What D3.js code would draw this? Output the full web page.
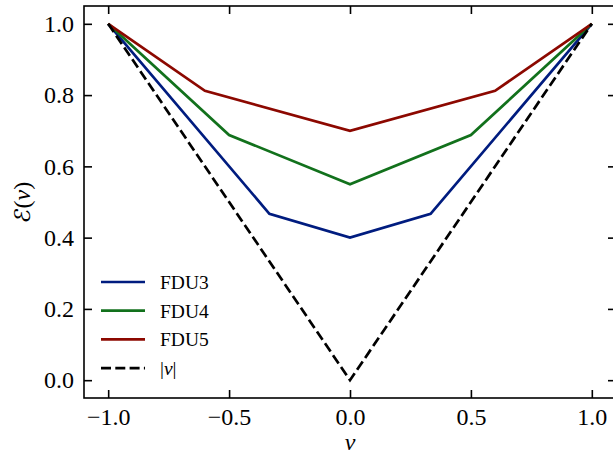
<!DOCTYPE html>
<html>
<head>
<meta charset="utf-8">
<script src="https://cdn.jsdelivr.net/npm/d3@7.9.0/dist/d3.min.js"></script>
<style>
  body { margin: 0; background: #fff; }
  svg text { font-family: "Liberation Serif", serif; fill: #000; }
</style>
</head>
<body>
<svg id="chart" width="613" height="458"></svg>
<script>
// data
const fdu3X = [-1, -1 / 3, 0, 1 / 3, 1];
const fdu3Y = [1, 0.467, 0.4, 0.467, 1];
const fdu4X = [-1, -0.5, 0, 0.5, 1];
const fdu4Y = [1, 0.688, 0.55, 0.688, 1];
const fdu5X = [-1, -0.6, 0, 0.6, 1];
const fdu5Y = [1, 0.812, 0.7, 0.812, 1];
const absX = [-1, 0, 1];
const absY = [1, 0, 1];
const xTicks = [-1, -0.5, 0, 0.5, 1];
const yTicks = [0, 0.2, 0.4, 0.6, 0.8, 1];

const series = [
    { label: 'FDU3', xs: fdu3X, ys: fdu3Y, color: '#001c7f', dash: null },
    { label: 'FDU4', xs: fdu4X, ys: fdu4Y, color: '#12711c', dash: null },
    { label: 'FDU5', xs: fdu5X, ys: fdu5Y, color: '#8c0800', dash: null },
    { label: 'abs', xs: absX, ys: absY, color: '#000', dash: '10,4.3' }
];

const mLeft = 84, mRight = 616, mTop = 6, mBottom = 398;
const svg = d3.select('#chart');

const x = d3.scaleLinear().domain([-1.1, 1.1]).range([mLeft, mRight]);
const y = d3.scaleLinear().domain([-0.05, 1.05]).range([mBottom, mTop]);

const fmt = (d) => d3.format('.1f')(d).replace('-', '\u2212');

// lines
const line = d3.line().x((d) => x(d[0])).y((d) => y(d[1]));
series.forEach((s) => {
    svg.append('path')
        .attr('d', line(s.xs.map((v, i) => [v, s.ys[i]])))
        .attr('fill', 'none')
        .attr('stroke', s.color)
        .attr('stroke-width', 2.7)
        .attr('stroke-dasharray', s.dash)
        .attr('stroke-linejoin', 'miter');
});

// frame
svg.append('rect')
    .attr('x', mLeft).attr('y', mTop)
    .attr('width', mRight - mLeft).attr('height', mBottom - mTop)
    .attr('fill', 'none').attr('stroke', '#000').attr('stroke-width', 1.6);

// axes with inward ticks on every side
const tickLen = 8;
const ax = (g, axis) => {
    g.call(axis);
    g.select('.domain').remove();
    g.selectAll('line').attr('stroke', '#000').attr('stroke-width', 1.6);
    g.selectAll('text').attr('font-size', 24).attr('font-family', '"Liberation Serif", serif').attr('fill', '#000');
};
svg.append('g').attr('transform', `translate(0,${mBottom})`)
    .call((g) => ax(g, d3.axisBottom(x).tickValues(xTicks).tickSize(-tickLen).tickPadding(10).tickFormat(fmt)));
svg.append('g').attr('transform', `translate(0,${mTop})`)
    .call((g) => ax(g, d3.axisTop(x).tickValues(xTicks).tickSize(-tickLen).tickFormat('')));
svg.append('g').attr('transform', `translate(${mLeft},0)`)
    .call((g) => ax(g, d3.axisLeft(y).tickValues(yTicks).tickSize(-tickLen).tickPadding(10).tickFormat(fmt)));
svg.append('g').attr('transform', `translate(${mRight},0)`)
    .call((g) => ax(g, d3.axisRight(y).tickValues(yTicks).tickSize(-tickLen).tickFormat('')));

// axis labels
svg.append('text')
    .attr('x', x(0)).attr('y', 450)
    .attr('text-anchor', 'middle')
    .attr('font-size', 24).attr('font-style', 'italic')
    .text('v');
svg.append('text')
    .attr('transform', `translate(30,${y(0.5)}) rotate(-90)`)
    .attr('text-anchor', 'middle')
    .attr('font-size', 24)
    .html('<tspan font-family="STIX Two Math, STIX Two Text, serif">\u2130</tspan>(<tspan font-style="italic">v</tspan>)');

// legend
const legend = svg.append('g').attr('transform', 'translate(101,282)');
series.forEach((s, i) => {
    const row = legend.append('g').attr('transform', `translate(0,${i * 28.7})`);
    row.append('line')
        .attr('x1', 0).attr('x2', 44)
        .attr('stroke', s.color).attr('stroke-width', 2.7)
        .attr('stroke-dasharray', s.dash);
    const t = row.append('text').attr('x', 59).attr('y', 7).attr('font-size', 19.5);
    if (s.label === 'abs') {
        t.html('|<tspan font-style="italic">v</tspan>|');
    } else {
        t.text(s.label);
    }
});
</script>
</body>
</html>
